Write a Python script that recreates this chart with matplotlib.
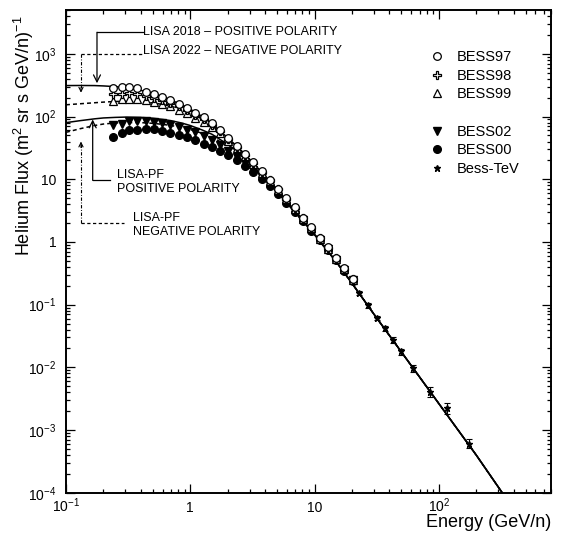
import numpy as np
import matplotlib
matplotlib.use('Agg')
import matplotlib.pyplot as plt
from matplotlib.lines import Line2D
from matplotlib.ticker import NullFormatter, LogLocator

plt.rcParams['font.family'] = ['Liberation Sans', 'DejaVu Sans']
plt.rcParams['mathtext.fontset'] = 'custom'
plt.rcParams['mathtext.rm'] = 'Liberation Sans'
plt.rcParams['mathtext.it'] = 'Liberation Sans:italic'
plt.rcParams['mathtext.bf'] = 'Liberation Sans:bold'

# BESS energy bins (GeV/n)
e_bess = [0.24, 0.28, 0.32, 0.37, 0.44, 0.51, 0.59, 0.69, 0.81, 0.94,
          1.10, 1.28, 1.49, 1.74, 2.03, 2.37, 2.76, 3.22, 3.75, 4.37,
          5.10, 5.95, 6.93, 8.08, 9.42, 11.0, 12.8, 14.9, 17.4, 20.3]

bess97 = [287, 295, 293, 283, 250, 228, 208, 185, 160, 135,
          115, 97, 80, 62, 46, 34, 25, 18.5, 13.5, 9.8,
          7.0, 5.0, 3.55, 2.45, 1.7, 1.17, 0.82, 0.56, 0.38, 0.26]
bess98 = [225, 232, 235, 228, 215, 200, 185, 165, 145, 125,
          106, 90, 74, 58, 44, 33, 24.5, 18, 13.2, 9.6,
          6.9, 4.9, 3.5, 2.42, 1.68, 1.15, 0.8, 0.55, 0.37, 0.255]
bess99 = [180, 188, 192, 190, 182, 172, 160, 145, 128, 112,
          96, 82, 68, 54, 41, 31, 23.5, 17.4, 12.8, 9.3,
          6.7, 4.8, 3.4, 2.36, 1.64, 1.12, 0.78, 0.54, 0.365, 0.25]
bess02 = [72, 76, 84, 86, 84, 81, 78, 74, 68, 62,
          56, 49, 42, 35, 28.5, 23, 18, 14, 10.8, 8.1,
          6.0, 4.35, 3.15, 2.22, 1.56, 1.08, 0.76, 0.52, 0.355, 0.245]
bess00 = [48, 55, 60, 62, 63, 63, 59, 55, 51, 47,
          42, 37, 33, 28.5, 24.5, 20.5, 16.5, 13, 10.2, 7.8,
          5.8, 4.2, 3.05, 2.15, 1.52, 1.06, 0.74, 0.51, 0.35, 0.24]

# BESS-TeV
e_tev = [22.9, 27.0, 31.6, 36.6, 42.7, 49.5, 62.5, 85.7, 116.7, 173.5]
f_tev = [0.154, 0.0976, 0.0611, 0.0423, 0.0275, 0.0179, 0.00968, 0.00409, 0.00221, 0.000608]
f_tev_err = [0.012, 0.008, 0.005, 0.004, 0.0028, 0.0019, 0.0013, 0.0007, 0.00044, 0.0001]

# LISA model curves
e_model = [0.1, 0.13, 0.17, 0.2, 0.25, 0.3, 0.4, 0.5, 0.6, 0.7,
           0.85, 1.0, 1.25, 1.5, 2.0, 2.5, 3.0, 4.0, 5.0, 7.0,
           10, 15, 20, 30, 50, 100, 200, 324, 350]
lisa2018_pos = [312, 313, 312, 308, 300, 290, 262, 233, 206, 183,
                155, 131, 100, 76, 46, 30.5, 21, 11.3, 6.9, 3.1,
                1.33, 0.48, 0.22, 0.071, 0.0176, 0.00265, 0.0004, 1.0e-4, 8.0e-5]
lisa2022_neg = [154, 160, 166, 170, 174, 175, 172, 165, 156, 146,
                130, 114, 91, 71, 44, 29.5, 20.3, 11.0, 6.75, 3.07,
                1.32, 0.48, 0.22, 0.071, 0.0176, 0.00265, 0.0004, 1.0e-4, 8.0e-5]
lisapf_pos = [80, 86, 92, 95, 97, 98, 97, 94, 90, 86,
              79, 72, 61, 52, 36, 26, 18.7, 10.3, 6.4, 2.95,
              1.3, 0.48, 0.22, 0.071, 0.0176, 0.00265, 0.0004, 1.0e-4, 8.0e-5]
lisapf_neg = [56, 64, 72, 76, 79, 80, 80, 78, 75, 72,
              67, 62, 54, 47, 34, 25, 18.2, 10.1, 6.3, 2.92,
              1.29, 0.48, 0.22, 0.071, 0.0176, 0.00265, 0.0004, 1.0e-4, 8.0e-5]

xticks = [0.1, 1, 10, 100]
xticklabels = ['$10^{-1}$', '1', '10', '$10^{2}$']
yticks = [1e-4, 1e-3, 1e-2, 1e-1, 1, 10, 100, 1000]
yticklabels = ['$10^{-4}$', '$10^{-3}$', '$10^{-2}$', '$10^{-1}$', '1', '10', '$10^{2}$', '$10^{3}$']

fig = plt.figure(figsize=(5.65, 5.34), dpi=100)
ax = fig.add_axes([0.1168, 0.0773, 0.8584, 0.9039])

dash = (2.6, 2.0)
ax.plot(e_model, lisa2018_pos, color='k', lw=1.1, zorder=2)
ax.plot(e_model, lisa2022_neg, color='k', lw=1.1, dashes=dash, zorder=2)
ax.plot(e_model, lisapf_pos, color='k', lw=1.1, zorder=2)
ax.plot(e_model, lisapf_neg, color='k', lw=1.1, dashes=dash, zorder=2)

ms = 5.5
ax.plot(e_bess, bess00, 'o', color='k', ms=ms, zorder=3)
ax.plot(e_bess, bess02, 'v', color='k', ms=ms, zorder=3)
ax.plot(e_bess, bess99, '^', mfc='white', mec='k', mew=0.9, ms=ms, zorder=4)
ax.plot(e_bess, bess98, 'P', mfc='white', mec='k', mew=0.9, ms=ms, zorder=4)
ax.plot(e_bess, bess97, 'o', mfc='white', mec='k', mew=0.9, ms=ms, zorder=4)
ax.errorbar(e_tev, f_tev, yerr=f_tev_err, fmt='*', color='k', ms=4.5,
            elinewidth=0.8, capsize=2, capthick=0.8, zorder=5)

ax.set_xscale('log')
ax.set_yscale('log')
ax.set_xlim(0.1, 800)
ax.set_ylim(1e-4, 5000)
ax.set_xticks(xticks, xticklabels)
ax.set_yticks(yticks, yticklabels)
ax.xaxis.set_minor_locator(LogLocator(base=10, subs=range(2, 10), numticks=20))
ax.yaxis.set_minor_locator(LogLocator(base=10, subs=range(2, 10), numticks=20))
ax.xaxis.set_minor_formatter(NullFormatter())
ax.yaxis.set_minor_formatter(NullFormatter())
ax.tick_params(which='both', direction='in', top=True, right=True, width=0.9, labelsize=10)
ax.tick_params(which='major', length=6.3)
ax.tick_params(which='minor', length=3.2)
ax.tick_params(axis='x', pad=14)
ax.tick_params(axis='y', pad=7)
for t in ax.get_xticklabels():
    t.set_va('baseline')
for s in ax.spines.values():
    s.set_linewidth(1.4)

ax.set_xlabel('Energy (GeV/n)', loc='right', fontsize=13)
ax.xaxis.set_label_coords(1.0, -0.044)
ax.set_ylabel('Helium Flux (m$^{2}$ sr s GeV/n)$^{-1}$', loc='top', fontsize=13)
ax.yaxis.set_label_coords(-0.062, 0.99)

# annotations
arr = dict(arrowstyle='->,head_length=0.5,head_width=0.25', lw=0.9, color='k',
           shrinkA=0, shrinkB=0, mutation_scale=10)
arr_small = dict(arrowstyle='->,head_length=0.3,head_width=0.15', lw=0.8, color='k',
                 shrinkA=0, shrinkB=0, mutation_scale=10)
dashdot = (3, 1.5, 0.8, 1.5)

ax.text(0.419, 2208, 'LISA 2018 \u2013 POSITIVE POLARITY', va='center', fontsize=9)
ax.plot([0.1776, 0.415], [2208, 2208], color='k', lw=0.9)
ax.annotate('', xy=(0.1776, 340), xytext=(0.1776, 2208), arrowprops=arr)

ax.text(0.419, 1100, 'LISA 2022 \u2013 NEGATIVE POLARITY', va='center', fontsize=9)
ax.plot([0.132, 0.415], [1000, 1000], color='k', lw=0.9, dashes=dash)
ax.plot([0.132, 0.132], [1000, 260], color='k', lw=0.8, dashes=dashdot)
ax.annotate('', xy=(0.132, 240), xytext=(0.132, 290), arrowprops=arr_small)

ax.text(0.257, 11.5, 'LISA-PF', va='center', fontsize=9)
ax.text(0.257, 6.9, 'POSITIVE POLARITY', va='center', fontsize=9)
ax.plot([0.164, 0.226], [9.6, 9.6], color='k', lw=0.9)
ax.annotate('', xy=(0.164, 89.8), xytext=(0.164, 9.6), arrowprops=arr)

ax.text(0.346, 2.38, 'LISA-PF', va='center', fontsize=9)
ax.text(0.346, 1.42, 'NEGATIVE POLARITY', va='center', fontsize=9)
ax.plot([0.132, 0.2925], [2.0, 2.0], color='k', lw=0.9, dashes=dash)
ax.plot([0.132, 0.132], [2.0, 36], color='k', lw=0.8, dashes=dashdot)
ax.annotate('', xy=(0.132, 40), xytext=(0.132, 32), arrowprops=arr_small)

handles = [
    Line2D([], [], ls='none', marker='o', mfc='white', mec='k', mew=0.9, ms=ms),
    Line2D([], [], ls='none', marker='P', mfc='white', mec='k', mew=0.9, ms=ms),
    Line2D([], [], ls='none', marker='^', mfc='white', mec='k', mew=0.9, ms=ms),
    Line2D([], [], ls='none'),
    Line2D([], [], ls='none', marker='v', color='k', ms=ms),
    Line2D([], [], ls='none', marker='o', color='k', ms=ms),
    Line2D([], [], ls='none', marker='*', color='k', ms=4.5),
]
labels = ['BESS97', 'BESS98', 'BESS99', ' ', 'BESS02', 'BESS00', 'Bess-TeV']
ax.legend(handles, labels, loc='upper left', bbox_to_anchor=(0.749, 0.917),
          frameon=False, fontsize=10.5, handlelength=1.0, handletextpad=0.87,
          labelspacing=0.32, borderpad=0, borderaxespad=0)

fig.savefig('out.png', dpi=100)
